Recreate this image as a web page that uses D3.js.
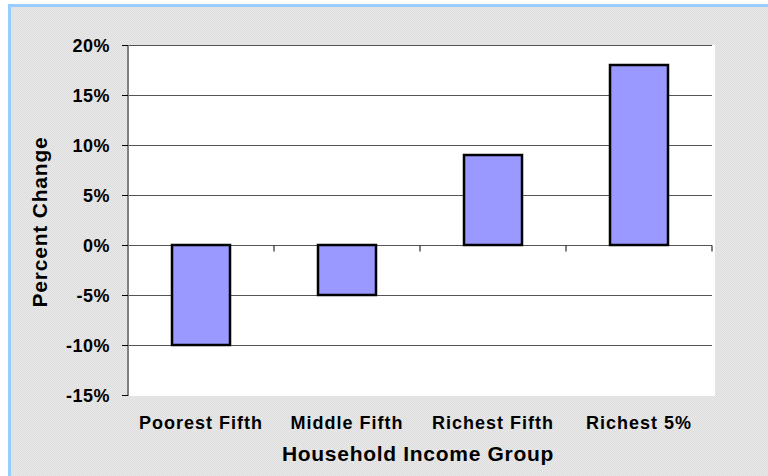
<!DOCTYPE html>
<html>
<head>
<meta charset="utf-8">
<script src="https://cdn.jsdelivr.net/npm/d3@7"></script>
<style>
  body { margin: 0; background: #fff; }
  text { font-family: "Liberation Sans", Arial, sans-serif; font-weight: bold; fill: #000; }
</style>
</head>
<body>
<svg width="768" height="476"></svg>
<script>
var categories = ["Poorest Fifth", "Middle Fifth", "Richest Fifth", "Richest 5%"];
var values = [-10, -5, 9, 18];
var yTicks = [-15, -10, -5, 0, 5, 10, 15, 20];

var svg = d3.select("svg");

// checkered grey background
var defs = svg.append("defs");
var pat = defs.append("pattern")
    .attr("id", "chk")
    .attr("width", 2).attr("height", 2)
    .attr("patternUnits", "userSpaceOnUse");
pat.append("rect").attr("width", 2).attr("height", 2).attr("fill", "#e8e8e8");
pat.append("rect").attr("width", 1).attr("height", 1).attr("fill", "#dedede");
pat.append("rect").attr("x", 1).attr("y", 1).attr("width", 1).attr("height", 1).attr("fill", "#dedede");

svg.append("rect")
    .attr("x", 9.5).attr("y", 5.5)
    .attr("width", 780).attr("height", 500)
    .attr("fill", "url(#chk)")
    .attr("stroke", "#99ccff")
    .attr("stroke-width", 3);

var margin = {top: 45, left: 128, right: 56, bottom: 80},
    width = 768 - margin.left - margin.right,
    height = 476 - margin.top - margin.bottom;

var g = svg.append("g").attr("transform", "translate(" + margin.left + "," + margin.top + ")");

var xb = d3.scaleBand().domain(categories).range([0, width]);
var y = d3.scaleLinear().domain([-15, 20]).range([350, 0]);

g.append("rect")
    .attr("width", width + 3).attr("height", 351)
    .attr("fill", "#fff");

// gridlines
g.selectAll(".grid")
    .data(yTicks.filter(function(d) { return d != -15; }))
    .enter().append("line")
    .attr("x1", 0).attr("x2", width)
    .attr("y1", function(d) { return Math.round(y(d)) + 0.5; })
    .attr("y2", function(d) { return Math.round(y(d)) + 0.5; })
    .attr("stroke", "#555")
    .attr("stroke-width", 1);

// bars
g.selectAll(".bar")
    .data(values)
    .enter().append("rect")
    .attr("class", "bar")
    .attr("x", function(d, i) { return xb(categories[i]) + xb.bandwidth() / 2 - 29; })
    .attr("width", 58)
    .attr("y", function(d) { return y(Math.max(0, d)); })
    .attr("height", function(d) { return Math.abs(y(d) - y(0)); })
    .attr("fill", "#9999ff")
    .attr("stroke", "#000")
    .attr("stroke-width", 2.5);

// y axis
var yAxis = g.append("g")
    .call(d3.axisLeft(y).tickValues(yTicks).tickSize(6).tickFormat(function(d) { return d + "%"; }));
yAxis.select(".domain").attr("stroke", "#808080").attr("stroke-width", 2).attr("d", "M0,0V351");
yAxis.selectAll(".tick line").attr("stroke", "#000");
yAxis.selectAll("text")
    .attr("x", -18)
    .attr("dy", "0.36em")
    .style("font-size", "18px")
    .style("letter-spacing", "0.5px")
    .style("font-family", "Liberation Sans, Arial, sans-serif")
    .style("font-weight", "bold");

// x axis at zero with band-boundary ticks
var zeroY = Math.round(y(0)) + 0.5;
g.selectAll(".xtick")
    .data(categories.slice(1).concat(["end"]))
    .enter().append("line")
    .attr("x1", function(d, i) { return (i + 1) * xb.bandwidth(); })
    .attr("x2", function(d, i) { return (i + 1) * xb.bandwidth(); })
    .attr("y1", zeroY).attr("y2", zeroY + 6)
    .attr("stroke", "#000");

// category labels
g.selectAll(".cat")
    .data(categories)
    .enter().append("text")
    .attr("x", function(d) { return xb(d) + xb.bandwidth() / 2; })
    .attr("y", 384)
    .attr("text-anchor", "middle")
    .style("font-size", "18px")
    .style("letter-spacing", "1px")
    .text(function(d) { return d; });

svg.append("text")
    .attr("x", 418)
    .attr("y", 461)
    .attr("text-anchor", "middle")
    .style("font-size", "21px")
    .style("letter-spacing", "0.7px")
    .text("Household Income Group");

svg.append("text")
    .attr("transform", "translate(47,222) rotate(-90)")
    .attr("text-anchor", "middle")
    .style("font-size", "21px")
    .style("letter-spacing", "0.8px")
    .text("Percent Change");
</script>
</body>
</html>
